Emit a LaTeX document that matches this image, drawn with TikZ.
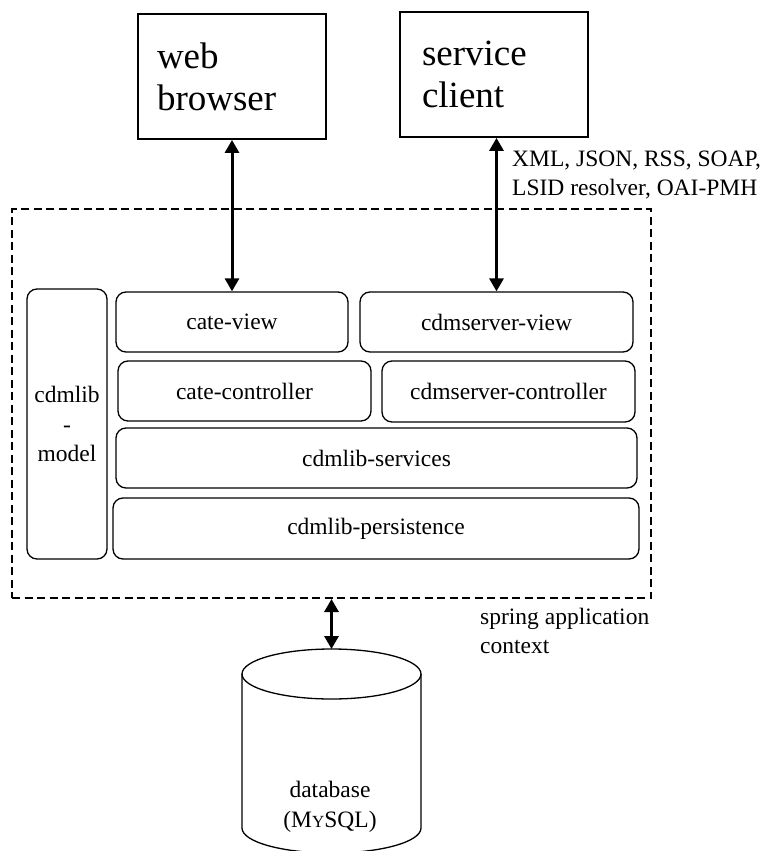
\documentclass[tikz,border=0pt]{standalone}
\usepackage{fontspec}
\setmainfont{Liberation Serif}
\usetikzlibrary{arrows.meta}
\begin{document}
\begin{tikzpicture}[x=1pt,y=-1pt,
  bigbox/.style={draw, line width=1.8pt, inner ysep=0pt, align=left,
    font=\fontsize{37}{42}\selectfont},
  layer/.style={draw, line width=1.3pt, rounded corners=10pt, inner sep=0pt,
    align=center, font=\fontsize{23.5}{29.5}\selectfont},
  lbl/.style={inner sep=0pt, align=left, font=\fontsize{23.5}{29.5}\selectfont},
  ctxbox/.style={draw, line width=2pt, dash pattern=on 8pt off 4.5pt, inner sep=0pt},
  link/.style={line width=3pt, {Triangle[length=13pt,width=14pt]}-{Triangle[length=13pt,width=14pt]}}
]
\useasboundingbox (0,0) rectangle (767,851);

% clients
\node[bigbox, inner xsep=19pt, text width=150pt, minimum height=125pt] (wb) at (232,76.5) {web\\browser};
\node[bigbox, inner xsep=22pt, text width=144pt, minimum height=125pt] (sc) at (494,74.5) {service\\client};

% spring context
\node[ctxbox, minimum width=639pt, minimum height=389pt] (ctx) at (331.5,403.5) {};

% layers
\node[layer, minimum width=80pt, minimum height=270pt] (model) at (67,424) {cdmlib\\-\\model};
\node[layer, minimum width=232pt, minimum height=60pt] (cv) at (232,322) {cate-view};
\node[layer, minimum width=273pt, minimum height=60pt] (csv) at (496.5,322) {cdmserver-view};
\node[layer, minimum width=253pt, minimum height=60pt] (cc) at (244.5,391) {cate-controller};
\node[layer, minimum width=253pt, minimum height=61pt] (csc) at (508.5,391.5) {cdmserver-controller};
\node[layer, minimum width=521pt, minimum height=60pt] (srv) at (376.5,458) {cdmlib-services};
\node[layer, minimum width=526pt, minimum height=61pt] (per) at (376,528.5) {cdmlib-persistence};

% labels
\node[lbl, anchor=west] (proto) at (512,175) {XML, JSON, RSS, SOAP,\\LSID resolver, OAI-PMH};
\node[lbl, anchor=west] (ctxlbl) at (480,631) {spring application\\context};

% database cylinder
\coordinate (dbtop) at (331.5,649);
\draw[line width=1.3pt] (331.5,674) ellipse [x radius=89.5pt, y radius=25pt];
\draw[line width=1.3pt] (242,674) -- (242,828) arc[start angle=180, end angle=360, x radius=89.5pt, y radius=25pt] -- (421,674);
\node[lbl, align=center] (db) at (330,807) {database\\(M{\fontsize{17}{17}\selectfont Y}SQL)};

% connectors
\draw[link] (wb.south) -- (cv.north);
\draw[link] (sc.south -| csv.north) -- (csv.north);
\draw[link] (ctx.south -| dbtop) -- (dbtop);
\end{tikzpicture}
\end{document}
